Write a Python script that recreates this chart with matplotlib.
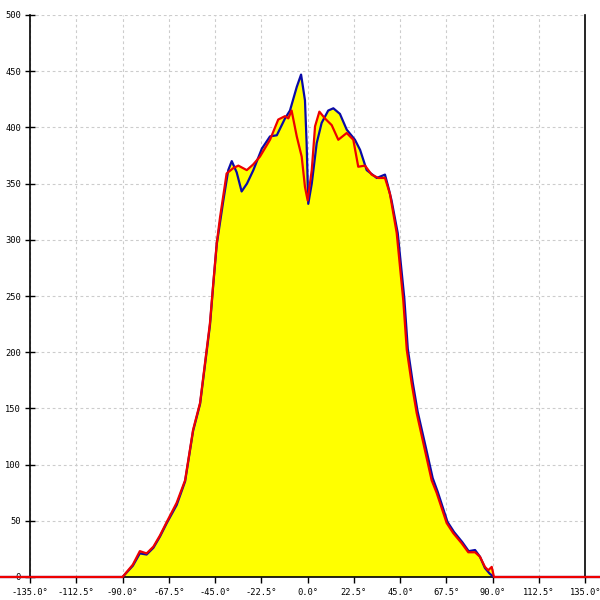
import matplotlib
matplotlib.use("Agg")
import matplotlib.pyplot as plt

# ----------------------------
# Data
# ----------------------------
angles_blue = [-150, -90, -85, -81.6, -78.3, -75, -71.8, -68.5, -63.7, -59.6,
               -55.7, -52.3, -47.5, -45.9, -44.2, -41, -38.6, -36.9, -34.5, -32.1,
               -29.5, -26.4, -22.3, -18.3, -15, -11, -8.6, -5.3, -3.2, -1.3,
               -0.5, 0.3, 2, 4.4, 6.8, 10, 12.5, 15.7, 19, 23,
               25.5, 28.7, 33.6, 37.6, 39.2, 40.8, 43.8, 45.4, 47, 48.7,
               51.1, 53.5, 57.5, 60.8, 63.2, 68, 71.2, 75.2, 78.3, 81.4,
               83.8, 86.2, 88.5, 90.6, 145]
values_blue = [0, 0, 10, 21, 20, 26, 36, 48, 64, 85,
               130, 154, 224, 260, 296, 335, 362, 370, 360, 343,
               350, 362, 381, 392, 393, 408, 415, 436, 447, 424,
               386, 332, 350, 386, 404, 415, 417, 412, 398, 389,
               380, 362, 355, 358, 347, 335, 306, 277, 248, 203,
               173, 147, 115, 88, 76, 49, 40, 31, 23, 24,
               18, 8, 3, 0, 0]

angles_red = [-150, -90, -85, -81.6, -78.3, -75, -71.8, -68.5, -63.7, -59.6,
              -55.7, -52.3, -47.5, -45.9, -44.2, -42.6, -39.4, -36, -33.7, -29.6,
              -26.5, -23.2, -18.3, -14.3, -11, -9.4, -7.8, -5.3, -2.9, -1.3,
              0, 2, 3.6, 5.7, 8.4, 11.7, 14.9, 19, 22.2, 24.6,
              27.9, 31.1, 34.4, 37.6, 40, 43.3, 44.9, 46.5, 48.2, 50.6,
              53, 57, 60.3, 62.7, 67.6, 70.8, 74.9, 78.1, 81.4, 83.8,
              86.2, 87.8, 89.5, 90.6, 145]
values_red = [0, 0, 11, 23, 21, 27, 37, 49, 66, 86,
              131, 155, 226, 261, 297, 320, 359, 364, 366, 362,
              367, 374, 389, 407, 410, 408, 415, 392, 374, 347,
              335, 362, 401, 414, 408, 402, 389, 395, 389, 365,
              366, 358, 355, 355, 341, 306, 276, 246, 202, 172,
              146, 113, 86, 75, 48, 39, 30, 22, 22, 18,
              9, 6, 9, 0, 0]

x_ticks = [-135, -112.5, -90, -67.5, -45, -22.5, 0, 22.5, 45, 67.5, 90, 112.5, 135]
y_ticks = [0, 50, 100, 150, 200, 250, 300, 350, 400, 450, 500]

# ----------------------------
# Figure
# ----------------------------
fig = plt.figure(figsize=(6, 6), dpi=100)
ax = fig.add_axes([30 / 600, 23 / 600, 555.3 / 600, 562 / 600])

mono = "DejaVu Sans Mono"

# yellow area under both curves
ax.fill_between(angles_blue, values_blue, color="#ffff00", lw=0, zorder=1)
ax.fill_between(angles_red, values_red, color="#ffff00", lw=0, zorder=1)

ax.plot(angles_blue, values_blue, color="#0a0aa8", lw=1.6, zorder=3, clip_on=False)
ax.plot(angles_red, values_red, color="#ee0000", lw=1.6, zorder=4, clip_on=False)

ax.set_xlim(-135, 135)
ax.set_ylim(0, 500)

ax.set_xticks(x_ticks)
ax.set_xticklabels([f"{t:.1f}°" for t in x_ticks], fontfamily=mono, fontsize=6.3)
ax.set_yticks(y_ticks)
ax.set_yticklabels([str(t) for t in y_ticks], fontfamily=mono, fontsize=6.3)

ax.tick_params(axis="y", direction="inout", length=7, width=1, pad=3)
ax.tick_params(axis="x", direction="out", length=4, width=1, pad=4)

ax.grid(True, color="#cccccc", linestyle=(0, (2.5, 2.5)), linewidth=0.8)
ax.set_axisbelow(True)

ax.spines["top"].set_visible(False)
for side in ["left", "right", "bottom"]:
    ax.spines[side].set_color("black")
    ax.spines[side].set_linewidth(1.2)

fig.savefig("out.png", dpi=100)
